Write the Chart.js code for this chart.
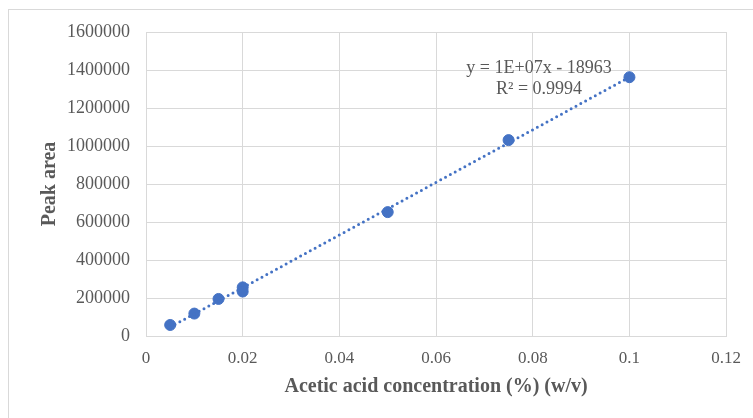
<!DOCTYPE html>
<html><head><meta charset="utf-8">
<script src="https://cdn.jsdelivr.net/npm/chart.js@4"></script>
<style>
html,body{margin:0;padding:0;background:#fff}
#wrap{position:relative;width:753px;height:418px;overflow:hidden}
#frame{position:absolute;left:8px;top:9px;width:760px;height:420px;border:1px solid #d9d9d9}
canvas{position:absolute;left:0;top:0}
</style></head><body>
<div id="wrap"><div id="frame"></div><canvas id="c" width="753" height="418"></canvas></div>
<script>
const conc=[0.005,0.01,0.015,0.02,0.02,0.05,0.075,0.1]
const area=[58000,118000,195000,256000,234000,652000,1031000,1362000]
const xTicks=[0,0.02,0.04,0.06,0.08,0.1,0.12]
const yTicks=[0,200000,400000,600000,800000,1000000,1200000,1400000,1600000]
const eqText="y = 1E+07x - 18963"
const r2Text="R² = 0.9994"

const grey="#595959"
const blue="#4472c4"
const serif="'Liberation Serif','Times New Roman',serif"

// least squares fit for the dotted trendline
const n=conc.length
const mx=conc.reduce((a,b)=>a+b)/n
const my=area.reduce((a,b)=>a+b)/n
let sxy=0,sxx=0
conc.forEach((x,i)=>{sxy+=(x-mx)*(area[i]-my);sxx+=(x-mx)*(x-mx)})
const slope=sxy/sxx
const icpt=my-slope*mx
const xLo=Math.min(...conc),xHi=Math.max(...conc)

const eqLabel={
id:"eqLabel",
afterDatasetsDraw(chart){
const {ctx,chartArea:ca}=chart
ctx.save()
ctx.fillStyle=grey
ctx.font="18px "+serif
ctx.textAlign="center"
ctx.textBaseline="middle"
ctx.fillText(eqText,ca.left+393,ca.top+36)
ctx.fillText(r2Text,ca.left+393,ca.top+57)
ctx.restore()
}
}

new Chart(document.getElementById("c"),{
type:"scatter",
data:{datasets:[
{label:"Trend",type:"line",data:[{x:xLo,y:icpt+slope*xLo},{x:xHi,y:icpt+slope*xHi}],
borderColor:blue,borderWidth:3,borderDash:[0,5.5],borderCapStyle:"round",pointRadius:0,fill:false,order:0},
{label:"Peak area",data:conc.map((x,i)=>({x,y:area[i]})),
backgroundColor:blue,borderColor:blue,pointRadius:5.5,order:1}
]},
options:{
responsive:false,animation:false,devicePixelRatio:1,
layout:{padding:{left:38,top:32,right:25,bottom:10}},
plugins:{legend:{display:false},tooltip:{enabled:false}},
scales:{
x:{type:"linear",min:0,max:0.12,
afterBuildTicks:s=>{s.ticks=xTicks.map(v=>({value:v}))},
afterFit:s=>{s.height=72},
grid:{color:"#d9d9d9",drawTicks:false},
border:{color:"#d9d9d9"},
ticks:{color:grey,padding:12,font:{family:serif,size:17},callback:v=>String(+v.toFixed(2))},
title:{display:true,text:"Acetic acid concentration (%) (w/v)",color:grey,
font:{family:serif,size:20,weight:"bold"},padding:{top:0,bottom:9}}
},
y:{type:"linear",min:0,max:1600000,
afterBuildTicks:s=>{s.ticks=yTicks.map(v=>({value:v}))},
afterFit:s=>{s.width=108},
grid:{color:"#d9d9d9",drawTicks:false},
border:{color:"#d9d9d9"},
ticks:{color:grey,padding:16,font:{family:serif,size:18},callback:v=>String(v)},
title:{display:true,text:"Peak area",color:grey,
font:{family:serif,size:20,weight:"bold"},padding:{top:0,bottom:0}}
}
}
},
plugins:[eqLabel]
})
</script>
</body></html>
